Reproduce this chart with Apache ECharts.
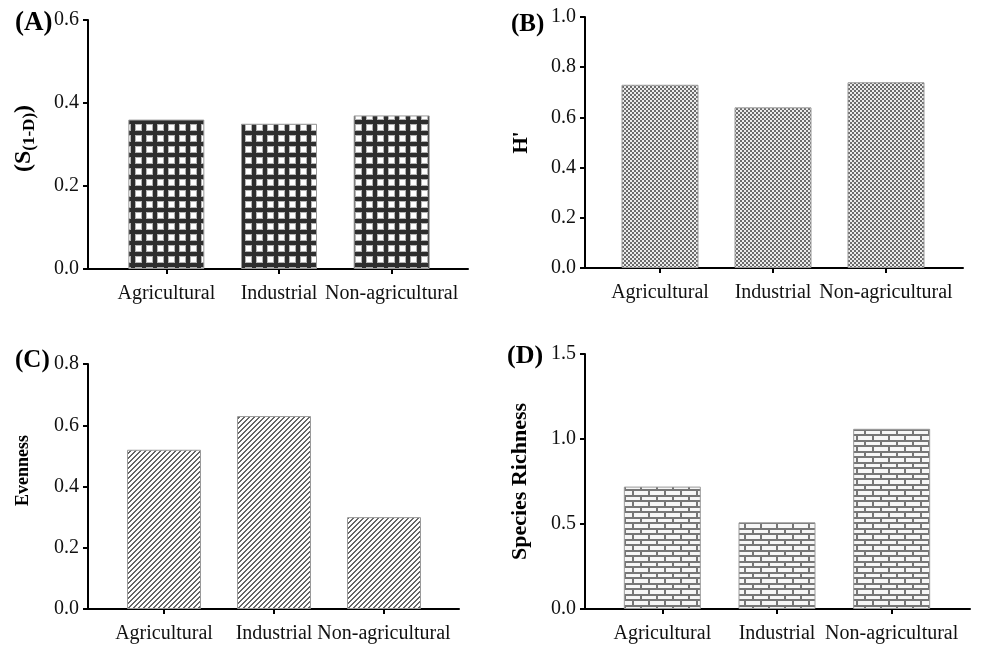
<!DOCTYPE html>
<html>
<head>
<meta charset="utf-8">
<script src="https://cdn.jsdelivr.net/npm/echarts@6/dist/echarts.min.js"></script>
<style>
  html, body { margin: 0; padding: 0; background: #fff; }
  #chart { width: 987px; height: 647px; }
</style>
</head>
<body>
<div id="chart"></div>
<script>
// data
const categories = ['Agricultural', 'Industrial', 'Non-agricultural'];
const simpsonValues = [0.36, 0.35, 0.37];   // (A) S(1-D)
const shannonValues = [0.73, 0.64, 0.74];   // (B) H'
const evennessValues = [0.52, 0.63, 0.30];  // (C) Evenness
const richnessValues = [0.72, 0.51, 1.06];  // (D) Species Richness

// y axis ranges: [max, step]
const simpsonAxis = [0.6, 0.2];
const shannonAxis = [1.0, 0.2];
const evennessAxis = [0.8, 0.2];
const richnessAxis = [1.5, 0.5];

const FONT = '"Liberation Serif", "Times New Roman", serif';

// hatch fills, drawn on little canvases
function makeTile(w, h, draw) {
    const c = document.createElement('canvas');
    c.width = w; c.height = h;
    draw(c.getContext('2d'), w, h);
    return { image: c, repeat: 'repeat' };
}

const gridFill = makeTile(11, 11, (ctx, w, h) => {
    ctx.fillStyle = '#2e2e2e';
    ctx.fillRect(0, 0, w, h);
    ctx.fillStyle = '#b4b4b4';
    ctx.fillRect(3, 3, 7, 7);
    ctx.fillStyle = '#fff';
    ctx.fillRect(4, 4, 5, 5);
});

const checkFill = makeTile(4, 4, (ctx) => {
    ctx.fillStyle = '#ececec';
    ctx.fillRect(0, 0, 4, 4);
    ctx.fillStyle = '#6c6c6c';
    ctx.fillRect(0, 0, 2, 2);
    ctx.fillRect(2, 2, 2, 2);
});

const diagFill = makeTile(5, 5, (ctx, w, h) => {
    ctx.fillStyle = '#fff';
    ctx.fillRect(0, 0, w, h);
    ctx.fillStyle = '#666';
    for (let x = 0; x < w; x++) {
        for (let y = 0; y < h; y++) {
            const k = (x + y) % 5;
            if (k === 0 || k === 1) ctx.fillRect(x, y, 1, 1);
        }
    }
});

const brickFill = makeTile(16, 11, (ctx, w, h) => {
    ctx.fillStyle = '#f6f6f6';
    ctx.fillRect(0, 0, w, h);
    ctx.fillStyle = '#767676';
    ctx.fillRect(0, 0, w, 2);
    ctx.fillRect(0, 5, w, 2);
    ctx.fillRect(0, 0, 2, 5);
    ctx.fillRect(8, 5, 2, 6);
});

// pixel layout of each panel
const panels = [
    { tag: '(A)', tagX: 15, tagY: 10, tagSize: 27, values: simpsonValues, axis: simpsonAxis, fill: gridFill,
      name: '{m|(S}{s|(1-D)}{m|)}', nameSize: 22, nameGap: 50, namePad: [0, 0, 0, 12],
      axisX: 88, bandL: 110, bandR: 448, axisEnd: 468, top: 20, bottom: 269, barW: 76 },
    { tag: '(B)', tagX: 511, tagY: 12, tagSize: 25, values: shannonValues, axis: shannonAxis, fill: checkFill,
      name: "H'", nameSize: 21, nameGap: 53, namePad: [0, 0, 0, 0],
      axisX: 585, bandL: 603.5, bandR: 942.5, axisEnd: 963, top: 17, bottom: 268, barW: 77 },
    { tag: '(C)', tagX: 15, tagY: 348, tagSize: 25, values: evennessValues, axis: evennessAxis, fill: diagFill,
      name: 'Evenness', nameSize: 18, nameGap: 56, namePad: [0, 0, 0, 32],
      axisX: 88, bandL: 109, bandR: 439, axisEnd: 459, top: 364, bottom: 609, barW: 74 },
    { tag: '(D)', tagX: 507, tagY: 343, tagSize: 26, values: richnessValues, axis: richnessAxis, fill: brickFill,
      name: 'Species Richness', nameSize: 22, nameGap: 54, namePad: [0, 0, 0, 0],
      axisX: 585, bandL: 605, bandR: 949, axisEnd: 970, top: 354, bottom: 609, barW: 77 }
];

const option = {
    animation: false,
    backgroundColor: '#fff',
    title: [], grid: [], xAxis: [], yAxis: [], series: []
};

panels.forEach((p, i) => {
    const h = p.bottom - p.top;
    const frameIdx = i * 2;
    const barIdx = i * 2 + 1;

    option.title.push({
        text: p.tag, left: p.tagX, top: p.tagY, padding: 0,
        textStyle: { fontFamily: FONT, fontWeight: 'bold', fontSize: p.tagSize, color: '#000' }
    });

    // frame grid: holds the long x axis line and the visible y axis
    option.grid.push({ left: p.axisX, top: p.top, width: p.axisEnd - p.axisX, height: h });
    // bar grid: the category bands
    option.grid.push({ left: p.bandL, top: p.top, width: p.bandR - p.bandL, height: h });

    option.xAxis.push({
        type: 'value', gridIndex: frameIdx, min: 0, max: 1,
        axisLine: { show: true, lineStyle: { color: '#000', width: 2 } },
        axisTick: { show: false }, axisLabel: { show: false }, splitLine: { show: false }
    });
    option.yAxis.push({
        type: 'value', gridIndex: frameIdx, min: 0, max: p.axis[0], interval: p.axis[1],
        name: p.name, nameLocation: 'middle', nameGap: p.nameGap,
        nameTextStyle: {
            fontFamily: FONT, fontWeight: 'bold', fontSize: p.nameSize, color: '#000', padding: p.namePad,
            rich: {
                m: { fontFamily: FONT, fontWeight: 'bold', fontSize: 24, color: '#000' },
                s: { fontFamily: FONT, fontWeight: 'bold', fontSize: 17, color: '#000', padding: [12, 0, 0, 0] }
            }
        },
        axisLine: { show: true, lineStyle: { color: '#000', width: 2 } },
        axisTick: { show: true, length: 5, lineStyle: { color: '#000', width: 2 } },
        axisLabel: { fontFamily: FONT, fontSize: 20, color: '#111', margin: 9, formatter: v => v.toFixed(1) },
        splitLine: { show: false }
    });

    option.xAxis.push({
        type: 'category', gridIndex: barIdx, data: categories,
        axisLine: { show: false },
        axisTick: { show: true, alignWithLabel: true, length: 5, lineStyle: { color: '#000', width: 2 } },
        axisLabel: { fontFamily: FONT, fontSize: 20, color: '#111', margin: 15, interval: 0 }
    });
    option.yAxis.push({
        type: 'value', gridIndex: barIdx, min: 0, max: p.axis[0], show: false, splitLine: { show: false }
    });

    option.series.push({
        type: 'bar', xAxisIndex: barIdx, yAxisIndex: barIdx,
        data: p.values, barWidth: p.barW,
        itemStyle: { color: p.fill, borderColor: '#9a9a9a', borderWidth: 1 }
    });
});

const chart = echarts.init(document.getElementById('chart'));
chart.setOption(option);
</script>
</body>
</html>
